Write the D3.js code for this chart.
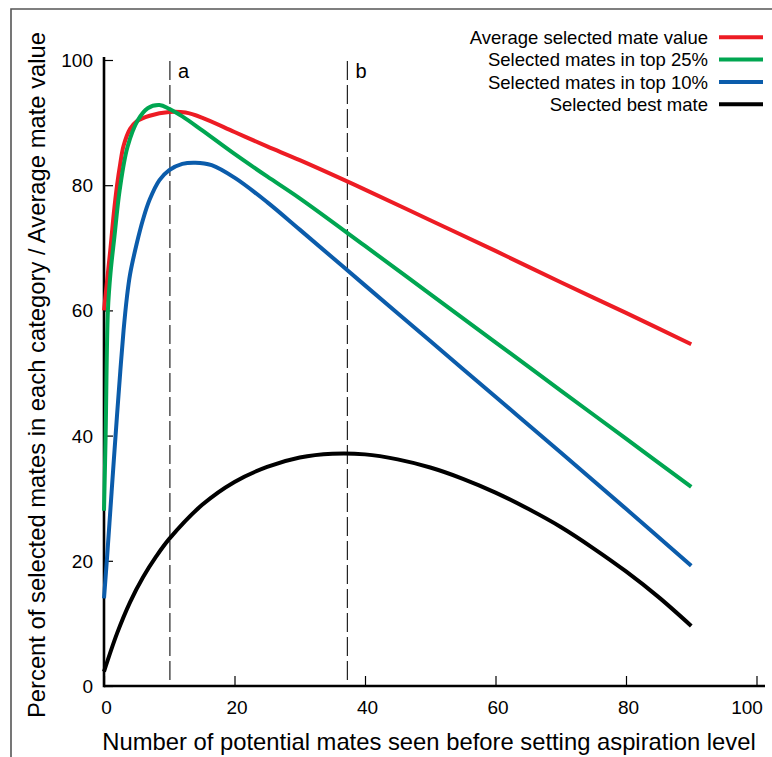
<!DOCTYPE html>
<html>
<head>
<meta charset="utf-8">
<script src="https://cdn.jsdelivr.net/npm/d3@7"></script>
<style>
  html, body { margin: 0; padding: 0; background: #fff; }
  svg { display: block; font-family: 'Liberation Sans', Arial, sans-serif; }
</style>
</head>
<body>
<div class="container"></div>
<script>
// series (x = mates seen, y = percent)
const avgX = [0, 0.5, 1, 1.5, 2, 2.5, 3, 4, 5, 7, 10, 12.5, 15, 20, 25, 30, 40, 50, 60, 70, 80, 90]
const avgY = [60, 65, 70, 75.5, 80, 83.5, 86.3, 89, 90.2, 91.1, 91.7, 91.6, 90.8, 88.5, 86.2, 84.0, 79.3, 74.4, 69.5, 64.5, 59.6, 54.6]

const top25X = [0, 0.25, 0.6, 1, 1.6, 2.4, 3.6, 5.2, 6.7, 8.5, 10, 12, 15, 20, 25, 30, 40, 50, 60, 70, 80, 90]
const top25Y = [28, 40, 60, 66, 71.8, 79.2, 86.1, 90.4, 92.3, 92.8, 92.2, 91.0, 88.8, 85.0, 81.4, 77.9, 70.3, 62.6, 54.9, 47.2, 39.5, 31.8]

const top10X = [0, 0.5, 1, 1.5, 2, 2.5, 3, 3.5, 4, 5, 6, 7, 8.5, 10, 12, 14, 16.5, 20, 25, 30, 40, 50, 60, 70, 80, 90]
const top10Y = [14, 21, 28.5, 36, 43.3, 50.3, 56.8, 62, 65.8, 70.6, 74.6, 77.7, 80.8, 82.4, 83.4, 83.6, 83.2, 81.2, 77.3, 72.9, 64.0, 55.1, 46.2, 37.3, 28.3, 19.2]

const bestX = [0, 2, 4, 6, 8, 10, 15, 20, 25, 30, 35, 40, 45, 50, 55, 60, 65, 70, 75, 80, 85, 90]
const bestY = [2.3, 8.4, 13.4, 17.4, 20.7, 23.5, 28.9, 32.6, 35.0, 36.5, 37.1, 37.0, 36.2, 34.9, 33.1, 30.9, 28.3, 25.4, 22.0, 18.3, 14.2, 9.6]

const seriesNames = ['Average selected mate value', 'Selected mates in top 25%', 'Selected mates in top 10%', 'Selected best mate']
const seriesColors = ['#ed1c24', '#00a651', '#0b5cab', '#000000']

const xTicks = [0, 20, 40, 60, 80, 100]
const yTicks = [0, 20, 40, 60, 80, 100]
const markerX = [10.1, 37.3]
const markerLabels = ['a', 'b']

const WIDTH = 772
const HEIGHT = 757

const series = [
  [avgX, avgY],
  [top25X, top25Y],
  [top10X, top10Y],
  [bestX, bestY],
].map(([xs, ys], i) => ({
  name: seriesNames[i],
  color: seriesColors[i],
  points: xs.map((x, j) => [x, ys[j]]),
}))

const svg = d3.select('.container')
  .append('svg')
  .attr('width', WIDTH)
  .attr('height', HEIGHT)

const x = d3.scaleLinear().domain([0, 100]).range([104, 756.5])
const y = d3.scaleLinear().domain([0, 100]).range([686, 60])

// frame (top and left edges only show in the picture)
svg.append('path')
  .attr('d', `M11,${HEIGHT} L11,9 L${WIDTH},9`)
  .attr('fill', 'none')
  .attr('stroke', '#555')
  .attr('stroke-width', 1.6)

// dashed markers
markerX.forEach((m, i) => {
  svg.append('line')
    .attr('x1', x(m)).attr('x2', x(m))
    .attr('y1', 61).attr('y2', y(0))
    .attr('stroke', '#222')
    .attr('stroke-width', 1.2)
    .attr('stroke-dasharray', '19,5')
  svg.append('text')
    .attr('x', x(m) + 8)
    .attr('y', 78)
    .attr('font-size', '20px')
    .text(markerLabels[i])
})

// axes
const yAxis = d3.axisLeft(y).tickValues(yTicks).tickSize(-9).tickPadding(20)
const yg = svg.append('g').attr('transform', `translate(${x(0)},0)`).call(yAxis)
yg.select('.domain').remove()
yg.selectAll('text').attr('font-size', '19px').attr('fill', '#000')
  .attr('font-family', "'Liberation Sans', Arial, sans-serif")
  .attr('dy', '0.34em').attr('x', -11)

const xAxis = d3.axisBottom(x).tickValues(xTicks).tickSize(-10).tickPadding(12)
const xg = svg.append('g').attr('transform', `translate(0,${y(0)})`).call(xAxis)
xg.select('.domain').remove()
xg.selectAll('text').attr('font-size', '19px').attr('fill', '#000')
  .attr('font-family', "'Liberation Sans', Arial, sans-serif")
  .attr('dx', d => d === 100 ? -10 : 2).attr('y', 14.5).attr('dy', '0.71em')
xg.selectAll('.tick line').attr('stroke-width', 1.2)
yg.selectAll('.tick line').attr('stroke-width', 1.2)

svg.append('line')
  .attr('x1', x(0)).attr('x2', 765)
  .attr('y1', y(0)).attr('y2', y(0))
  .attr('stroke', '#000').attr('stroke-width', 2.6)
svg.append('line')
  .attr('x1', x(0)).attr('x2', x(0))
  .attr('y1', 57).attr('y2', y(0) + 1.3)
  .attr('stroke', '#000').attr('stroke-width', 2.6)

// axis titles
svg.append('text')
  .attr('x', 429)
  .attr('y', 750)
  .attr('text-anchor', 'middle')
  .attr('font-size', '23.8px')
  .text('Number of potential mates seen before setting aspiration level')

svg.append('text')
  .attr('transform', 'translate(45,375) rotate(-90)')
  .attr('text-anchor', 'middle')
  .attr('font-size', '23.8px')
  .text('Percent of selected mates in each category / Average mate value')

// curves
const line = d3.line()
  .x(d => x(d[0]))
  .y(d => y(d[1]))
  .curve(d3.curveCatmullRom.alpha(0.5))

svg.append('g')
  .selectAll('path')
  .data(series)
  .enter()
  .append('path')
    .attr('d', d => line(d.points))
    .attr('fill', 'none')
    .attr('stroke', d => d.color)
    .attr('stroke-width', 4)

// legend
const legend = svg.append('g')
  .selectAll('g')
  .data(series)
  .enter()
  .append('g')
    .attr('transform', (d, i) => `translate(0,${37.3 + i * 22.3})`)

legend.append('text')
  .attr('x', 708)
  .attr('y', 6.8)
  .attr('text-anchor', 'end')
  .attr('font-size', '18.5px')
  .text(d => d.name)

legend.append('line')
  .attr('x1', 719).attr('x2', 763)
  .attr('stroke', d => d.color)
  .attr('stroke-width', 4)
</script>
</body>
</html>
